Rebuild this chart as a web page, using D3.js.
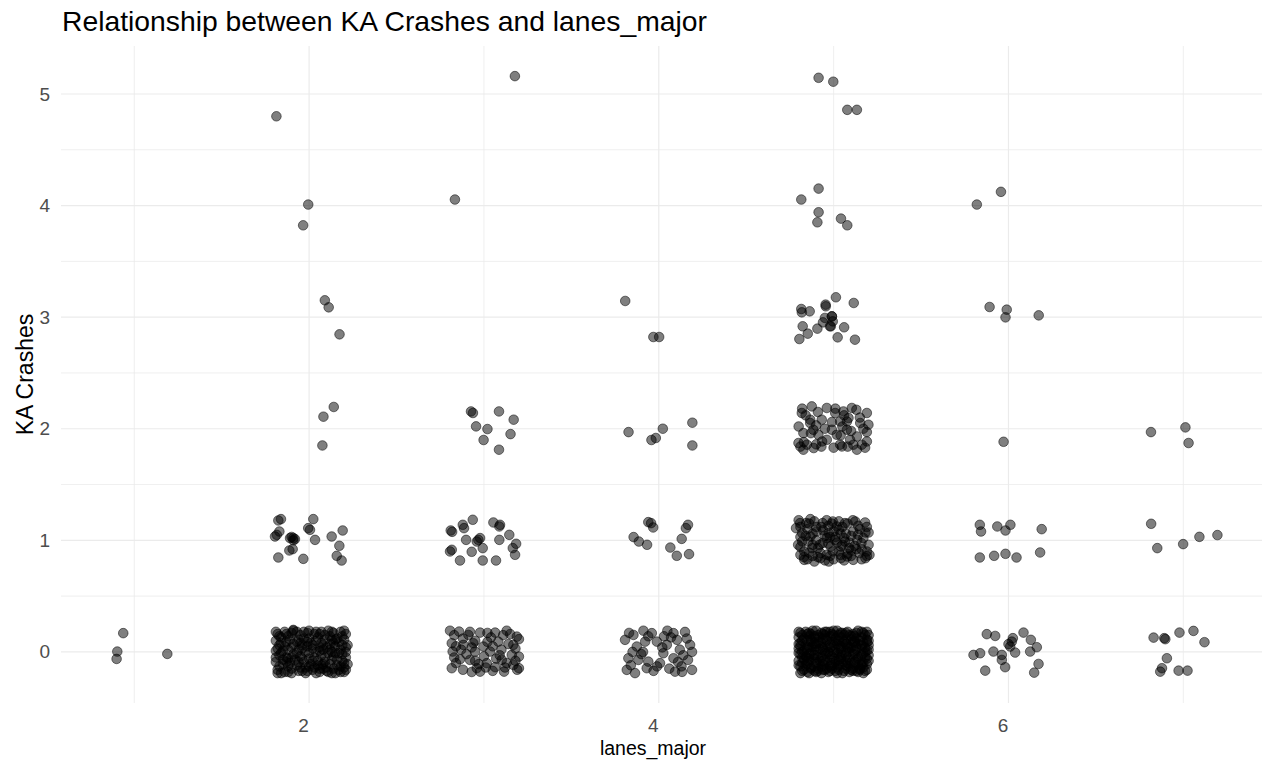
<!DOCTYPE html>
<html><head><meta charset="utf-8">
<script src="https://cdn.jsdelivr.net/npm/d3@7"></script>
<style>body{margin:0;background:#fff}svg{display:block;font-family:"Liberation Sans",Arial,sans-serif}</style>
</head><body><svg id="c" width="1267" height="771"></svg>
<script>
// ---- data (jittered lanes_major, jittered KA crashes) ----
const xTicks = [2, 4, 6];
const yTicks = [0, 1, 2, 3, 4, 5];
const xGrid = [1, 2, 3, 4, 5, 6, 7];
const yGrid = [0, 0.5, 1, 1.5, 2, 2.5, 3, 3.5, 4, 4.5, 5];
const titleText = "Relationship between KA Crashes and lanes_major";
const xTitle = "lanes_major";
const yTitle = "KA Crashes";

const lanes1 = [[0.937,0.168],[0.903,0.003],[0.899,-0.063],[1.189,-0.018]];

const lanes2 = [
 [1.82,0.16],[1.86,0.18],[1.91,0.19],[1.95,0.15],[1.99,0.17],[2.03,0.16],[2.07,0.18],[2.11,0.19],[2.14,0.17],[2.18,0.18],[2.21,0.16],[1.88,0.14],[2.05,0.13],[2.16,0.12],
 [1.81,0.10],[1.84,0.08],[1.89,0.11],[1.93,0.09],[1.97,0.12],[2.01,0.08],[2.04,0.10],[2.09,0.11],[2.12,0.07],[2.17,0.09],[2.20,0.11],[2.22,0.06],[1.86,0.05],[1.96,0.06],
 [1.82,0.03],[1.85,0.01],[1.90,0.04],[1.94,0.02],[1.98,0.00],[2.02,0.03],[2.06,0.01],[2.10,0.04],[2.13,0.00],[2.18,0.02],[2.21,0.04],[1.99,0.05],[2.08,0.06],[2.15,0.05],
 [1.83,-0.03],[1.87,-0.05],[1.91,-0.02],[1.95,-0.04],[2.00,-0.01],[2.03,-0.05],[2.07,-0.03],[2.11,-0.01],[2.14,-0.04],[2.19,-0.02],[2.21,-0.05],[1.92,-0.07],[2.05,-0.08],[2.16,-0.07],
 [1.81,-0.09],[1.85,-0.11],[1.89,-0.10],[1.93,-0.12],[1.97,-0.09],[2.01,-0.11],[2.05,-0.12],[2.09,-0.09],[2.12,-0.11],[2.16,-0.12],[2.20,-0.10],[1.98,-0.14],[2.10,-0.14],
 [1.82,-0.16],[1.86,-0.18],[1.90,-0.15],[1.94,-0.17],[1.98,-0.19],[2.02,-0.16],[2.06,-0.18],[2.10,-0.17],[2.13,-0.19],[2.17,-0.16],[2.20,-0.18],[1.84,-0.19],[2.08,-0.15],
 [1.95,0.08],[2.00,0.12],[1.88,-0.06],[2.03,-0.14],[2.12,0.14],[1.84,0.13],[2.18,-0.13],[2.06,0.04],[1.93,-0.01],[2.14,0.08],[1.91,0.197],
 [1.83,0.14],[1.90,0.17],[1.97,0.18],[2.04,0.18],[2.09,0.15],[2.19,0.14],
 [1.83,0.06],[1.91,0.07],[1.99,0.09],[2.07,0.08],[2.13,0.11],[2.19,0.06],
 [1.84,-0.01],[1.88,0.02],[1.96,0.03],[2.04,0.00],[2.12,0.02],[2.17,-0.01],
 [1.85,-0.07],[1.90,-0.05],[1.96,-0.06],[2.02,-0.08],[2.09,-0.05],[2.13,-0.07],[2.19,-0.08],
 [1.83,-0.13],[1.88,-0.13],[1.95,-0.14],[2.00,-0.13],[2.07,-0.12],[2.14,-0.15],[2.20,-0.14],
 [1.88,-0.18],[1.96,-0.17],[2.04,-0.19],[2.11,-0.18],[2.18,-0.18],
 [1.81,0.18],[1.87,0.16],[1.93,0.18],[2.00,0.19],[2.06,0.16],[2.13,0.18],[2.20,0.19],
 [1.81,0.01],[1.87,0.09],[1.94,0.11],[2.02,0.06],[2.08,0.02],[2.15,0.11],[2.21,0.00],
 [1.81,-0.05],[1.87,-0.09],[1.94,-0.09],[2.00,-0.06],[2.08,-0.11],[2.15,-0.01],[2.22,-0.11],
 [1.82,-0.19],[1.90,-0.19],[1.99,-0.17],[2.06,-0.15],[2.15,-0.19],[2.21,-0.16],
 [1.824,1.178],[1.839,1.190],[1.815,1.049],[1.830,1.079],[1.805,1.034],[1.891,1.020],[1.910,1.020],[1.919,1.011],[2.024,1.190],[2.005,1.094],[1.995,1.109],[2.034,1.004],
 [1.824,0.846],[1.887,0.909],[1.906,0.921],[1.967,0.834],[2.129,1.034],[2.192,1.088],[2.173,0.951],[2.158,0.861],[2.186,0.819],[1.90,1.03],[1.91,1.00],
 [2.141,2.195],[2.082,2.108],[2.076,1.850],
 [2.090,3.151],[2.112,3.088],[2.174,2.846],
 [1.995,4.009],[1.966,3.823],
 [1.813,4.80]
];

const lanes3 = [
 [2.806,0.19],[2.858,0.182],[2.911,0.152],[2.978,0.173],[3.064,0.173],[3.130,0.19],[3.188,0.137],[3.20,0.114],
 [2.816,0.078],[2.882,0.063],[2.939,0.078],[2.997,0.048],[3.082,0.092],[3.168,0.063],[2.821,0.003],[2.863,-0.066],
 [2.920,-0.072],[2.959,-0.146],[3.016,-0.101],[3.064,-0.137],[3.115,-0.177],[3.168,-0.117],[3.20,-0.042],[3.20,-0.146],
 [2.816,-0.146],[2.978,-0.177],[3.102,-0.072],[3.035,0.003],[2.949,0.003],[3.159,-0.027],
 [2.88,0.12],[2.95,0.10],[3.04,0.13],[3.11,0.15],[3.18,0.03],[2.90,-0.02],[3.00,-0.04],[3.07,-0.06],[2.84,-0.10],
 [3.13,-0.10],[2.93,-0.18],[3.05,-0.17],[3.19,-0.16],[2.87,0.02],[3.10,0.02],[3.02,0.09],[2.97,-0.11],
 [2.83,0.15],[2.92,0.18],[3.02,0.17],[3.15,0.16],[2.84,0.05],[2.93,0.04],[3.05,0.05],[3.14,0.07],
 [2.83,-0.05],[2.95,-0.08],[3.09,-0.03],[3.18,-0.08],[2.88,-0.16],[3.01,-0.14],[3.12,-0.14],
 [2.810,1.088],[2.818,1.076],[2.879,1.139],[2.886,1.109],[2.936,1.184],[3.054,1.160],[3.092,1.139],[3.088,1.124],
 [3.145,1.049],[3.088,1.004],[2.968,1.004],[2.959,0.989],[2.978,1.020],[2.898,1.004],[2.806,0.900],[2.816,0.915],
 [2.930,0.897],[2.993,0.930],[2.863,0.819],[2.993,0.819],[3.069,0.819],[3.184,0.969],[3.165,0.930],[3.178,0.870],
 [2.926,2.155],[2.937,2.141],[3.086,2.155],[3.170,2.081],[2.955,2.021],[3.020,1.997],[3.152,1.952],[2.998,1.899],[3.086,1.812],
 [2.834,4.054],
 [3.177,5.16]
];

const lanes4 = [
 [3.807,0.108],[3.855,0.152],[3.912,0.19],[3.960,0.168],[4.049,0.19],[4.084,0.168],[3.874,0.048],[3.922,0.092],
 [3.989,0.092],[4.046,0.063],[3.826,-0.057],[3.883,-0.072],[3.940,-0.087],[4.007,-0.101],[4.084,-0.057],[3.817,-0.161],
 [3.864,-0.19],[3.931,-0.146],[4.093,-0.177],[4.026,-0.012],
 [4.150,0.179],[4.179,0.063],[4.167,-0.072],[4.133,-0.179],[4.190,-0.161],[4.104,0.108],
 [4.12,0.02],[4.16,0.12],[4.06,-0.15],[3.97,-0.17],[4.11,-0.09],[3.85,0.00],[4.03,0.14],[4.19,0.00],
 [3.83,0.17],[3.94,0.14],[4.07,0.13],[3.90,-0.02],[4.02,0.04],[4.14,-0.03],[3.84,-0.12],[3.99,-0.13],[4.13,-0.13],[3.91,0.00],
 [3.940,1.163],[3.956,1.154],[3.968,1.115],[4.167,1.139],[4.155,1.109],[4.131,1.013],[3.856,1.029],[3.886,0.989],
 [3.933,0.960],[4.066,0.935],[4.103,0.861],[4.173,0.876],
 [3.827,1.970],[4.023,2.000],[4.192,2.054],[3.958,1.899],[3.983,1.917],[4.192,1.850],
 [3.808,3.145],[3.969,2.822],[4.002,2.822]
];

const lanes5 = [
 [4.81,0.17],[4.84,0.18],[4.87,0.16],[4.90,0.19],[4.93,0.17],[4.96,0.18],[4.99,0.16],[5.02,0.19],[5.05,0.17],[5.08,0.18],[5.11,0.16],[5.14,0.19],[5.17,0.17],[5.19,0.18],[4.88,0.19],[5.00,0.19],
 [4.80,0.13],[4.83,0.12],[4.86,0.14],[4.89,0.12],[4.92,0.13],[4.95,0.11],[4.98,0.14],[5.01,0.12],[5.04,0.13],[5.07,0.11],[5.10,0.14],[5.13,0.12],[5.16,0.13],[5.19,0.11],
 [4.81,0.08],[4.84,0.06],[4.87,0.09],[4.90,0.07],[4.93,0.08],[4.96,0.06],[4.99,0.09],[5.02,0.07],[5.05,0.08],[5.08,0.06],[5.11,0.09],[5.14,0.07],[5.17,0.08],[5.20,0.06],
 [4.80,0.03],[4.83,0.01],[4.86,0.04],[4.89,0.02],[4.92,0.03],[4.95,0.01],[4.98,0.04],[5.01,0.02],[5.04,0.03],[5.07,0.01],[5.10,0.04],[5.13,0.02],[5.16,0.03],[5.19,0.01],
 [4.81,-0.02],[4.84,-0.04],[4.87,-0.01],[4.90,-0.03],[4.93,-0.05],[4.96,-0.02],[4.99,-0.04],[5.02,-0.01],[5.05,-0.03],[5.08,-0.05],[5.11,-0.02],[5.14,-0.04],[5.17,-0.01],[5.20,-0.03],
 [4.80,-0.08],[4.83,-0.07],[4.86,-0.09],[4.89,-0.06],[4.92,-0.08],[4.95,-0.10],[4.98,-0.07],[5.01,-0.09],[5.04,-0.06],[5.07,-0.08],[5.10,-0.10],[5.13,-0.07],[5.16,-0.09],[5.19,-0.06],
 [4.81,-0.13],[4.84,-0.12],[4.87,-0.14],[4.90,-0.11],[4.93,-0.13],[4.96,-0.15],[4.99,-0.12],[5.02,-0.14],[5.05,-0.11],[5.08,-0.13],[5.11,-0.15],[5.14,-0.12],[5.17,-0.14],[5.19,-0.11],
 [4.81,-0.19],[4.85,-0.18],[4.89,-0.17],[4.93,-0.19],[4.97,-0.18],[5.01,-0.17],[5.05,-0.19],[5.09,-0.18],[5.13,-0.17],[5.17,-0.19],
 [4.88,0.05],[4.95,0.15],[5.03,-0.10],[5.12,0.10],[4.85,-0.05],[5.06,0.15],[4.91,-0.15],[5.15,-0.16],[4.97,0.00],[5.09,0.03],
 [4.82,0.15],[4.86,0.17],[4.91,0.15],[4.95,0.18],[5.00,0.15],[5.04,0.17],[5.09,0.15],[5.13,0.17],[5.18,0.15],
 [4.82,0.10],[4.87,0.11],[4.91,0.09],[4.96,0.10],[5.01,0.10],[5.06,0.09],[5.10,0.11],[5.15,0.10],[5.19,0.09],
 [4.81,0.05],[4.85,0.04],[4.90,0.05],[4.94,0.04],[5.00,0.06],[5.04,0.05],[5.08,0.04],[5.13,0.05],[5.18,0.04],
 [4.82,0.00],[4.86,-0.02],[4.91,0.01],[4.95,-0.01],[5.00,0.00],[5.04,-0.01],[5.09,0.00],[5.12,-0.02],[5.18,0.00],
 [4.82,-0.05],[4.86,-0.06],[4.91,-0.05],[4.95,-0.07],[5.00,-0.06],[5.04,-0.05],[5.09,-0.07],[5.14,-0.06],[5.18,-0.05],
 [4.82,-0.10],[4.85,-0.11],[4.90,-0.09],[4.94,-0.11],[4.99,-0.10],[5.03,-0.12],[5.08,-0.10],[5.12,-0.11],[5.17,-0.10],
 [4.83,-0.16],[4.87,-0.15],[4.91,-0.17],[4.95,-0.16],[4.99,-0.15],[5.03,-0.16],[5.07,-0.15],[5.11,-0.17],[5.15,-0.15],[5.19,-0.16],
 [4.80,0.18],[4.85,0.16],[4.89,0.14],[4.94,0.16],[4.98,0.18],[5.03,0.15],[5.07,0.17],[5.12,0.14],[5.16,0.18],[5.20,0.15],
 [4.80,0.07],[4.85,0.10],[4.89,0.08],[4.94,0.12],[4.98,0.07],[5.03,0.10],[5.07,0.07],[5.12,0.08],[5.16,0.06],[5.20,0.10],
 [4.80,-0.01],[4.85,0.02],[4.89,-0.03],[4.94,0.02],[4.98,-0.02],[5.03,0.03],[5.07,-0.03],[5.12,0.01],[5.16,-0.03],[5.20,0.02],
 [4.80,-0.12],[4.85,-0.08],[4.89,-0.13],[4.94,-0.08],[4.98,-0.13],[5.03,-0.07],[5.07,-0.12],[5.12,-0.09],[5.16,-0.12],[5.20,-0.08],
 [4.82,-0.17],[4.86,-0.19],[4.90,-0.18],[4.94,-0.16],[4.98,-0.17],[5.02,-0.19],[5.06,-0.17],[5.10,-0.16],[5.14,-0.18],[5.18,-0.17],
 [4.808,1.154],[4.867,1.190],[4.937,1.154],[4.995,1.169],[5.065,1.154],[5.124,1.169],[5.182,1.070],[4.820,1.065],
 [4.902,1.079],[4.972,1.065],[5.030,1.094],[5.112,1.079],[5.159,0.975],[4.797,0.960],[4.855,0.989],[4.937,0.975],
 [5.007,1.004],[5.065,0.989],[5.135,1.004],[4.832,0.900],[4.925,0.885],[4.995,0.900],[5.077,0.855],[5.147,0.885],
 [5.182,0.840],[4.832,0.825],[4.890,0.810],[4.972,0.810],[5.042,0.840],[5.112,0.825],[4.867,1.034],[4.960,1.020],
 [5.042,0.944],[4.878,0.930],[4.983,0.944],[5.089,0.930],[4.785,1.109],[5.205,0.870],[4.843,1.154],[5.018,1.124],[4.925,0.840],
 [4.90,1.12],[4.95,1.04],[5.00,1.08],[5.05,1.12],[5.10,1.04],[5.15,1.10],[4.85,1.10],[4.92,0.96],[5.02,0.98],[5.12,0.95],
 [4.88,0.86],[5.00,0.83],[5.16,0.92],[4.82,0.99],[5.06,1.02],[4.97,1.13],
 [4.81,1.12],[4.86,1.15],[4.93,1.12],[4.99,1.15],[5.08,1.15],[5.14,1.13],[5.19,1.12],
 [4.84,1.04],[4.90,1.00],[4.98,1.03],[5.04,1.06],[5.09,0.98],[5.17,1.02],
 [4.81,0.87],[4.86,0.89],[4.91,0.93],[4.96,0.87],[5.03,0.90],[5.08,0.88],[5.13,0.92],[5.19,0.90],
 [4.85,0.83],[4.95,0.82],[5.06,0.82],[5.16,0.83],
 [4.80,1.18],[4.89,1.17],[4.96,1.18],[5.03,1.17],[5.11,1.18],[5.18,1.16],
 [4.81,1.03],[4.88,1.06],[4.94,1.09],[5.01,1.03],[5.07,1.06],[5.14,1.05],[5.20,1.07],
 [4.81,0.94],[4.88,0.96],[4.97,0.97],[5.05,0.96],[5.10,0.91],[5.20,0.96],
 [4.83,0.85],[4.91,0.85],[4.98,0.86],[5.04,0.87],[5.10,0.86],[5.19,0.86],
 [4.818,2.141],[4.875,2.200],[4.961,2.186],[5.009,2.141],[5.056,2.155],[5.104,2.186],[5.190,2.141],[4.866,2.081],
 [4.932,2.081],[5.037,2.065],[5.085,2.096],[5.152,2.051],[5.199,2.036],[4.827,1.961],[4.884,1.991],[4.990,1.991],
 [5.076,1.991],[5.133,1.931],[4.799,1.872],[4.847,1.857],[4.886,1.827],[4.934,1.886],[4.961,1.901],[5.047,1.841],
 [5.094,1.901],[5.133,1.812],[5.190,1.886],[4.866,2.051],[5.076,2.065],[5.037,1.857],[4.827,1.812],[4.913,1.946],
 [5.018,1.946],[5.161,1.857],[5.113,1.857],
 [4.84,2.12],[4.90,2.03],[5.06,2.12],[5.10,1.98],[4.93,1.84],[5.19,1.97],[5.15,2.10],[4.83,1.88],[4.99,2.06],[5.04,1.94],
 [4.82,2.18],[4.91,2.15],[5.01,2.18],[5.13,2.17],[4.80,2.02],[4.87,1.96],[4.95,2.00],[5.05,2.02],[5.17,2.00],
 [4.81,1.84],[4.90,1.86],[5.00,1.83],[5.08,1.84],[5.18,1.83],
 [4.815,3.073],[4.863,3.052],[4.954,3.112],[5.013,3.178],[5.115,3.127],[4.950,2.993],[4.990,3.007],[4.939,2.953],
 [4.979,2.918],[4.823,2.918],[5.060,2.909],[4.907,2.897],[4.852,2.852],[4.804,2.804],[5.023,2.819],[5.122,2.798],
 [4.818,3.043],[4.955,3.097],[4.990,3.007],[4.995,2.962],[4.984,2.918],
 [4.914,4.152],[4.815,4.054],[4.914,3.94],[4.907,3.85],[5.042,3.883],[5.078,3.823],
 [4.914,5.145],[4.998,5.11],[5.078,4.858],[5.133,4.858]
];

const lanes6 = [
 [5.800,-0.027],[5.838,-0.012],[5.876,0.159],[5.924,0.143],[5.914,0.003],[5.962,-0.027],[5.962,-0.072],[5.981,-0.137],
 [5.867,-0.168],[6.010,0.048],[6.025,0.123],[6.019,0.092],[6.038,-0.006],[6.086,0.173],[6.128,0.108],[6.124,0.003],
 [6.162,0.042],[6.172,-0.108],[6.147,-0.186],[6.00,0.07],
 [5.836,1.139],[5.843,1.079],[5.936,1.124],[5.983,1.088],[6.011,1.139],[6.190,1.100],[5.836,0.846],[5.918,0.861],
 [5.983,0.879],[6.046,0.846],[6.181,0.891],
 [5.972,1.883],
 [5.892,3.091],[5.990,3.067],[5.983,2.998],[6.173,3.016],
 [5.819,4.009],[5.957,4.123]
];

const lanes7 = [
 [6.830,0.128],[6.897,0.114],[6.891,0.123],[6.978,0.173],[7.058,0.188],[7.121,0.087],[6.906,-0.057],[6.878,-0.146],
 [6.868,-0.177],[6.973,-0.168],[7.024,-0.168],
 [6.816,1.148],[6.851,0.930],[6.999,0.966],[7.092,1.031],[7.195,1.047],
 [6.815,1.970],[7.012,2.012],[7.030,1.872]
];

const groups = [lanes1, lanes2, lanes3, lanes4, lanes5, lanes6, lanes7];

// ---- layout ----
const svg = d3.select("#c");
const P = {left: 61, right: 1262, top: 46, bottom: 703};
const x = d3.scaleLinear().domain([0.581, 7.45]).range([P.left, P.right]);
const y = d3.scaleLinear().domain([-0.458, 5.43]).range([P.bottom, P.top]);

const grid = svg.append("g");
grid.selectAll("line.h").data(yGrid).join("line")
  .attr("x1", P.left).attr("x2", P.right)
  .attr("y1", d => y(d)).attr("y2", d => y(d))
  .attr("stroke", "#ebebeb").attr("stroke-width", d => Number.isInteger(d) ? 1.2 : 0.8);
grid.selectAll("line.v").data(xGrid).join("line")
  .attr("y1", P.top).attr("y2", P.bottom)
  .attr("x1", d => x(d)).attr("x2", d => x(d))
  .attr("stroke", "#ebebeb").attr("stroke-width", d => d % 2 === 0 ? 1.2 : 0.8);

// axes
const xa = svg.append("g").attr("transform", `translate(0,${P.bottom})`)
  .call(d3.axisBottom(x).tickValues(xTicks).tickSize(0).tickPadding(16).tickFormat(d3.format("d")));
xa.select(".domain").remove();
xa.selectAll("text").attr("font-size", 19).attr("fill", "#4d4d4d")
  .attr("font-family", "Liberation Sans, Arial, sans-serif").attr("dx", -6);

const ya = svg.append("g").attr("transform", `translate(${P.left},0)`)
  .call(d3.axisLeft(y).tickValues(yTicks).tickSize(0).tickPadding(11).tickFormat(d3.format("d")));
ya.select(".domain").remove();
ya.selectAll("text").attr("font-size", 19).attr("fill", "#4d4d4d")
  .attr("font-family", "Liberation Sans, Arial, sans-serif");

// points
const pts = svg.append("g");
groups.forEach(g => {
  pts.selectAll(null).data(g).join("circle")
    .attr("cx", d => x(d[0])).attr("cy", d => y(d[1])).attr("r", 4.8)
    .attr("fill", "#000").attr("fill-opacity", 0.5)
    .attr("stroke", "#000").attr("stroke-opacity", 0.5).attr("stroke-width", 1);
});

// titles
svg.append("text").attr("x", 62).attr("y", 31).attr("font-size", 28.3).attr("fill", "#000").text(titleText);
svg.append("text").attr("x", 653).attr("y", 755).attr("text-anchor", "middle").attr("font-size", 19.5).attr("fill", "#000").text(xTitle);
svg.append("text").attr("transform", "translate(32.5,374.5) rotate(-90)").attr("text-anchor", "middle")
  .attr("font-size", 23).attr("fill", "#000").text(yTitle);
</script></body></html>
